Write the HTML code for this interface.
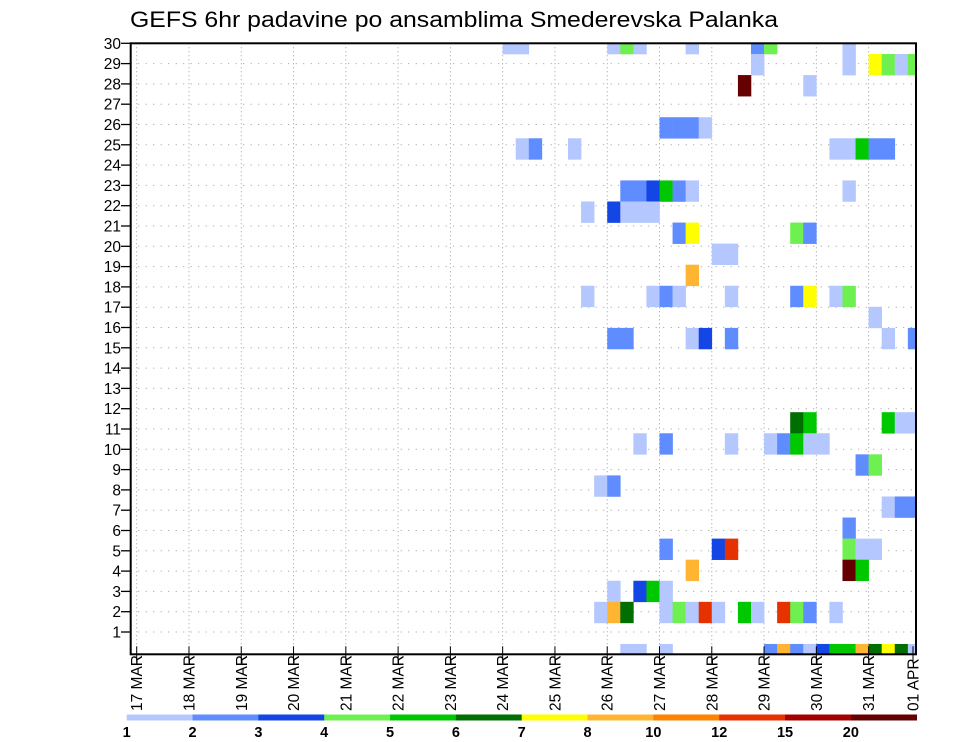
<!DOCTYPE html>
<html><head><meta charset="utf-8"><style>
html,body{margin:0;padding:0;background:#fff;}
svg{display:block;font-family:"Liberation Sans",sans-serif;}
</style></head><body>
<svg id="chart" width="960" height="742" viewBox="0 0 960 742" xmlns="http://www.w3.org/2000/svg">
<defs><clipPath id="plotclip"><rect x="130.7" y="43.3" width="785.3" height="611"/></clipPath></defs>
<rect x="0" y="0" width="960" height="742" fill="#fff"/>
<text x="130" y="27" font-size="22" textLength="648" lengthAdjust="spacingAndGlyphs" fill="#000">GEFS 6hr padavine po ansamblima Smederevska Palanka</text>
<g id="grid"></g>
<g id="cells" clip-path="url(#plotclip)"></g>
<rect x="130.7" y="43.3" width="785.3" height="611" fill="none" stroke="#000" stroke-width="2"/>
<g id="yaxis"></g>
<g id="xaxis"></g>
<g id="colorbar"></g>
</svg>
<script>
// Data
const dayLabels = ["17 MAR","18 MAR","19 MAR","20 MAR","21 MAR","22 MAR","23 MAR","24 MAR","25 MAR","26 MAR","27 MAR","28 MAR","29 MAR","30 MAR","31 MAR","01 APR"];
const memberLabels = [1,2,3,4,5,6,7,8,9,10,11,12,13,14,15,16,17,18,19,20,21,22,23,24,25,26,27,28,29,30];
const levels = [1,2,3,4,5,6,7,8,10,12,15,20];
const levelColors = ["#b4c8ff","#5f8cff","#1446e6","#6ef050","#00c800","#006e00","#ffff00","#ffb432","#ff8200","#e63200","#a50000","#640000"];
// cell row index (0 = top), 6-hourly step index from 17 MAR 00Z, precip value (mm)
const cellRow = [
0,0,0,0,0,0,0,0,0,
1,1,1,1,1,1,
2,2,
4,4,4,4,
5,5,5,5,5,5,5,5,
7,7,7,7,7,7,7,
8,8,8,8,8,
9,9,9,9,
10,10,
11,
12,12,12,12,12,12,12,12,12,
13,
14,14,14,14,14,14,14,
18,18,18,18,18,
19,19,19,19,19,19,19,19,
20,20,
21,21,
22,22,22,
23,
24,24,24,24,24,24,
25,25,25,
26,26,26,26,
27,27,27,27,27,27,27,27,27,27,27,27,27,27,
29,29,29,29,29,29,29,29,29,29,29,29,29,29,29];
const cellStep = [
28,29,36,37,38,42,47,48,54,
47,54,56,57,58,59,
46,51,
40,41,42,43,
29,30,33,53,54,55,56,57,
37,38,39,40,41,42,54,
34,36,37,38,39,
41,42,50,51,
44,45,
42,
34,39,40,41,45,50,51,53,54,
56,
36,37,42,43,45,57,59,
50,51,57,58,59,
38,40,45,48,49,50,51,52,
55,56,
35,36,
57,58,59,
54,
40,44,45,54,55,56,
42,54,55,
36,38,39,40,
35,36,37,40,41,42,43,44,46,47,49,50,51,53,
37,38,40,48,49,50,51,52,53,54,55,56,57,58,59];
const cellValue = [
1.5,1.5,1.5,4.5,1.5,1.5,2.5,4.5,1.5,
1.5,1.5,7.5,4.5,1.5,4.5,
22,1.5,
2.5,2.5,2.5,1.5,
1.5,2.5,1.5,1.5,1.5,5.5,2.5,2.5,
2.5,2.5,3.5,5.5,2.5,1.5,1.5,
1.5,3.5,1.5,1.5,1.5,
2.5,7.5,4.5,2.5,
1.5,1.5,
9,
1.5,1.5,2.5,1.5,1.5,2.5,7.5,1.5,4.5,
1.5,
2.5,2.5,1.5,3.5,2.5,1.5,2.5,
6.5,5.5,5.5,1.5,1.5,
1.5,2.5,1.5,1.5,2.5,5.5,1.5,1.5,
2.5,4.5,
1.5,2.5,
1.5,2.5,2.5,
2.5,
2.5,3.5,13,4.5,1.5,1.5,
9,22,5.5,
1.5,3.5,5.5,1.5,
1.5,9,6.5,1.5,4.5,1.5,13,1.5,5.5,1.5,13,4.5,2.5,1.5,
1.5,1.5,1.5,2.5,9,2.5,1.5,3.5,5.5,5.5,9,6.5,7.5,6.5,1.5];
</script>
<script>
const NS="http://www.w3.org/2000/svg";
const X0=136.7, DAYW=52.28, STEPW=DAYW/4;
const ROWTOP=32.93, ROWH=21.07;
const LEFT=130.7, RIGHT=916, TOP=43.3, BOTTOM=654.3;
function xDay(i){return X0+i*DAYW;}
function xStep(s){return X0+s*STEPW;}
function yCellRow(k){return ROWTOP+k*ROWH;}
function yMember(m){return TOP+(30-m)*20.3;}
function colorFor(v){let c=levelColors[0];for(let i=0;i<levels.length;i++){if(v>=levels[i])c=levelColors[i];}return c;}
function mk(tag,attrs,parent){const e=document.createElementNS(NS,tag);for(const k in attrs)e.setAttribute(k,attrs[k]);parent.appendChild(e);return e;}
const grid=document.getElementById('grid'),cells=document.getElementById('cells'),yaxis=document.getElementById('yaxis'),xaxis=document.getElementById('xaxis'),cb=document.getElementById('colorbar');
for(let i=0;i<dayLabels.length-1;i++){
  const l=mk('line',{x1:xDay(i),x2:xDay(i),y1:TOP,y2:BOTTOM,stroke:'#9a9a9a','stroke-width':1,'stroke-dasharray':'1 3'},grid);
  
  
}
for(const m of memberLabels){
  if(m===30)continue;
  const l=mk('line',{x1:LEFT,x2:RIGHT,y1:yMember(m),y2:yMember(m),stroke:'#9a9a9a','stroke-width':1,'stroke-dasharray':'1 6.5'},grid);
  
  
}
for(let i=0;i<cellValue.length;i++){
  const r=mk('rect',{x:xStep(cellStep[i]),y:yCellRow(cellRow[i]),width:STEPW+0.3,height:ROWH+0.3,fill:colorFor(cellValue[i])},cells);
  
  
}
for(const m of memberLabels){
  const y=yMember(m);
  const t=mk('line',{x1:121,x2:LEFT,y1:y,y2:y,stroke:'#000','stroke-width':1.3},yaxis);
  
  
  const tx=mk('text',{x:121,y:y+5.5,'font-size':15.5,'text-anchor':'end',fill:'#000'},yaxis);
  tx.textContent=m;
  
  
}
for(let i=0;i<dayLabels.length;i++){
  const x=(i===dayLabels.length-1)?913:xDay(i);
  const t=mk('line',{x1:x,x2:x,y1:BOTTOM-8,y2:BOTTOM+9,stroke:'#000','stroke-width':1},xaxis);
  
  
  const tx=mk('text',{x:0,y:0,'font-size':15.5,'text-anchor':'start',fill:'#000',transform:`translate(${x+5.5},711) rotate(-90)`},xaxis);
  tx.textContent=dayLabels[i];
  
  
}
const CB0=126.7, CBW=(916.7-126.7)/levels.length;
for(let i=0;i<levels.length;i++){
  const r=mk('rect',{x:CB0+i*CBW,y:714.5,width:CBW+0.3,height:6,fill:levelColors[i]},cb);
  
  
  const tx=mk('text',{x:CB0+i*CBW,y:737,'font-size':14.5,'font-weight':'bold','text-anchor':'middle',fill:'#000'},cb);
  tx.textContent=levels[i];
  
  
}
</script>
</body></html>
